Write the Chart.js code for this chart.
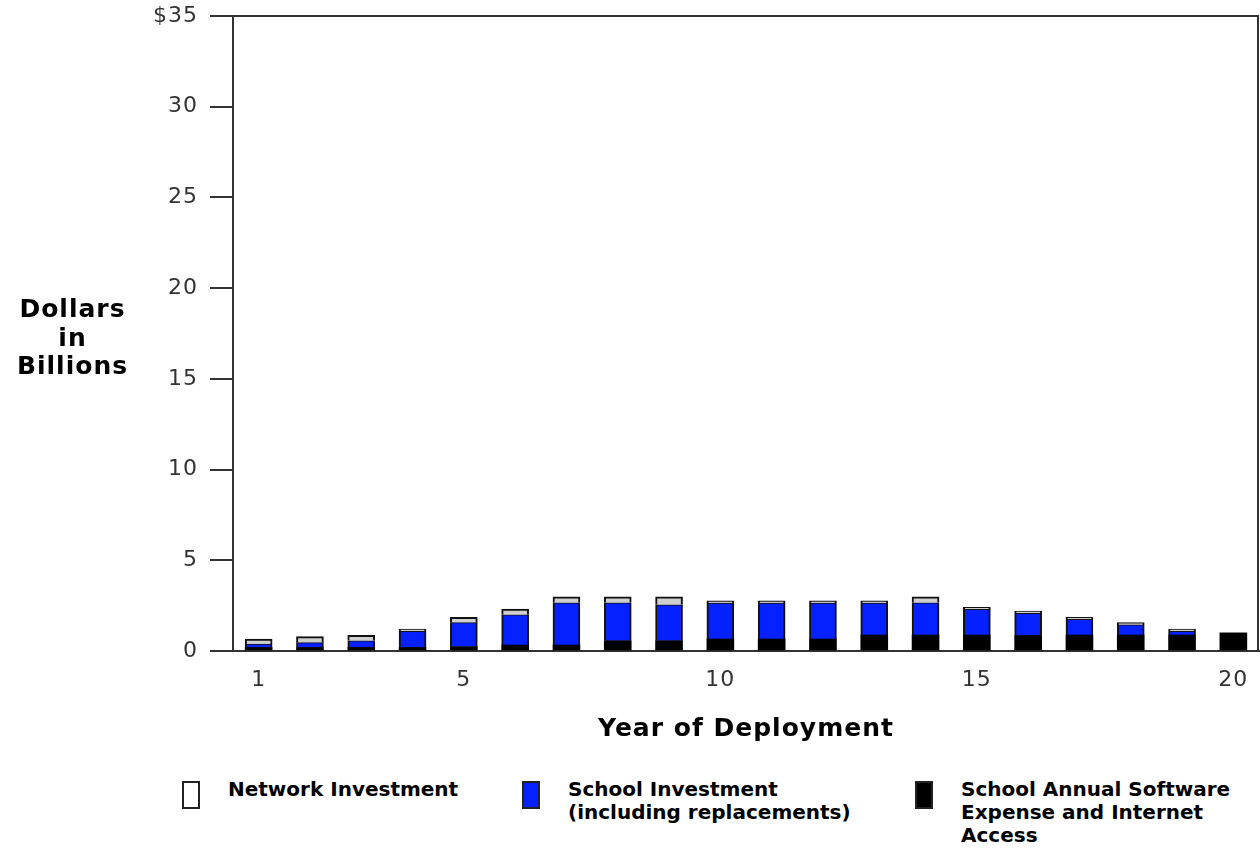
<!DOCTYPE html>
<html>
<head>
<meta charset="utf-8">
<script src="https://cdn.jsdelivr.net/npm/chart.js@4.4.1/dist/chart.umd.min.js"></script>
<style>
  body { margin: 0; background: #fff; width: 1260px; height: 850px; overflow: hidden; position: relative; font-family: 'DejaVu Sans', sans-serif; }
  #wrap { position: absolute; left: 0; top: 0; width: 1260px; height: 750px; }
  .ytitle { position: absolute; left: 0; width: 145px; top: 295px; text-align: center; font-weight: bold; font-size: 25px; line-height: 28.5px; letter-spacing: 1px; color: #000; }
  .leg { position: absolute; top: 778px; font-weight: bold; font-size: 20px; line-height: 23px; color: #000; }
  .leg .box { position: absolute; left: 0; top: 3px; width: 14px; height: 24px; border: 2px solid #222; }
  .leg .txt { position: absolute; left: 46px; top: 0; white-space: nowrap; }
</style>
</head>
<body>
<div id="wrap"><canvas id="c" width="1260" height="750"></canvas></div>
<div class="ytitle">Dollars<br>in<br>Billions</div>
<div class="leg" style="left:182px"><span class="box" style="background:#fff"></span><span class="txt">Network Investment</span></div>
<div class="leg" style="left:522px"><span class="box" style="background:#0521ff"></span><span class="txt">School Investment<br>(including replacements)</span></div>
<div class="leg" style="left:915px"><span class="box" style="background:#000"></span><span class="txt">School Annual Software<br>Expense and Internet<br>Access</span></div>
<script>
// year of deployment
const years = ['1','2','3','4','5','6','7','8','9','10','11','12','13','14','15','16','17','18','19','20'];
const shownYears = ['1', '5', '10', '15', '20'];

// dollars in billions, stacked bottom to top
const software = [0.20, 0.20, 0.20, 0.20, 0.24, 0.33, 0.33, 0.57, 0.57, 0.66, 0.66, 0.66, 0.88, 0.88, 0.88, 0.86, 0.88, 0.88, 0.88, 1.00];
const school   = [0.18, 0.26, 0.36, 0.89, 1.32, 1.67, 2.33, 2.09, 1.98, 1.98, 1.98, 1.98, 1.76, 1.78, 1.41, 1.22, 0.86, 0.56, 0.21, 0.00];
const network  = [0.28, 0.33, 0.31, 0.12, 0.30, 0.31, 0.33, 0.33, 0.44, 0.12, 0.12, 0.12, 0.12, 0.33, 0.12, 0.12, 0.12, 0.12, 0.12, 0.00];

const yMax = 35;
const yStep = 5;

const framePlugin = {
  id: 'frame',
  afterDraw(chart) {
    const { ctx, chartArea: a } = chart;
    ctx.save();
    ctx.strokeStyle = '#333';
    ctx.lineWidth = 2;
    ctx.beginPath();
    ctx.moveTo(a.left, a.top);
    ctx.lineTo(a.right - 1, a.top);
    ctx.lineTo(a.right - 1, a.bottom);
    ctx.stroke();
    ctx.restore();
  }
};

const spacing = {
  id: 'spacing',
  beforeDraw(chart) { chart.ctx.letterSpacing = '1px'; }
};

new Chart(document.getElementById('c'), {
  type: 'bar',
  data: {
    labels: years,
    datasets: [
      {
        label: 'School Annual Software Expense and Internet Access',
        data: software,
        backgroundColor: '#000',
        borderColor: '#000',
        borderWidth: 0,
        barThickness: 27
      },
      {
        label: 'School Investment (including replacements)',
        data: school,
        backgroundColor: '#0521ff',
        borderColor: '#111',
        borderWidth: { top: 1, left: 2, right: 2, bottom: 0 },
        borderSkipped: false,
        barThickness: 27
      },
      {
        label: 'Network Investment',
        data: network,
        backgroundColor: '#cfcfcf',
        borderColor: '#111',
        borderWidth: { top: 2, left: 2, right: 2, bottom: 0 },
        borderSkipped: false,
        barThickness: 27
      }
    ]
  },
  options: {
    responsive: false,
    animation: false,
    layout: { padding: { top: 16, right: 1, left: 0, bottom: 0 } },
    plugins: { legend: { display: false }, tooltip: { enabled: false } },
    scales: {
      x: {
        stacked: true,
        grid: { display: false, drawTicks: false },
        border: { display: true, color: '#333', width: 2 },
        ticks: {
          color: '#333', padding: 16, maxRotation: 0, autoSkip: false,
          font: { family: 'DejaVu Sans', size: 22 },
          callback: (v, i) => shownYears.includes(years[i]) ? years[i] : ''
        },
        title: {
          display: true, text: 'Year of Deployment', color: '#000',
          font: { family: 'DejaVu Sans', size: 25, weight: 'bold' },
          padding: { top: 0, bottom: 6 }
        },
        afterFit: (s) => { s.height = 99; s.paddingLeft = 0; s.paddingRight = 0; }
      },
      y: {
        stacked: true,
        min: 0, max: yMax,
        grid: { drawOnChartArea: false, tickLength: 23, tickColor: '#333', lineWidth: 2 },
        border: { display: true, color: '#333', width: 2 },
        ticks: {
          stepSize: yStep, color: '#333', padding: 12,
          font: { family: 'DejaVu Sans', size: 22 },
          callback: (v) => v === yMax ? '$' + v : v
        },
        afterFit: (s) => { s.width = 233; s.paddingTop = 0; s.paddingBottom = 0; }
      }
    }
  },
  plugins: [spacing, framePlugin]
});
</script>
</body>
</html>
